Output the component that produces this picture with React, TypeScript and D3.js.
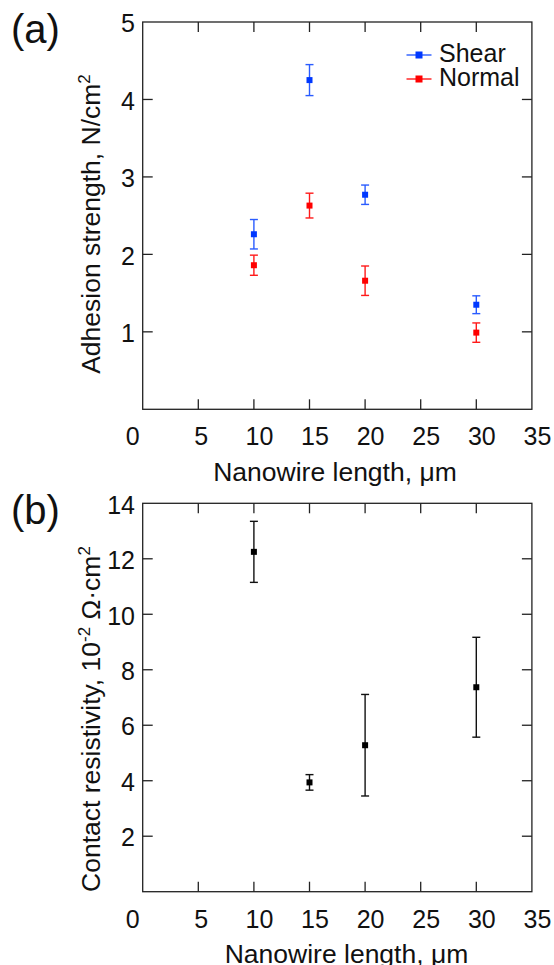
import React from "react";
import * as d3 from "d3";

const lengths = [10, 15, 20, 30];
const shearMean = [2.26, 4.25, 2.77, 1.35];
const shearErr = [0.19, 0.2, 0.125, 0.115];
const normalMean = [1.86, 2.63, 1.66, 0.99];
const normalErr = [0.13, 0.16, 0.19, 0.125];
const resistMean = [12.25, 3.94, 5.28, 7.37];
const resistErr = [1.1, 0.28, 1.83, 1.8];

const xTicks = [0, 5, 10, 15, 20, 25, 30, 35];
const yTicksA = [1, 2, 3, 4, 5];
const yTicksB = [2, 4, 6, 8, 10, 12, 14];

const FONT = "'Liberation Sans', Arial, sans-serif";
const FRAME = "#222";

type Series = { mean: number[]; err: number[]; marker: string; bar: string };

function Panel(props: {
  top: number;
  bottom: number;
  yMax: number;
  yTicks: number[];
  series: Series[];
  label: string;
  yTitle: React.ReactNode;
  yTitleCenter: number;
  xTitleBaseline: number;
  xTitleCenter: number;
  children?: React.ReactNode;
}) {
  const { top, bottom, yMax, yTicks, series } = props;
  const left = 142.7;
  const right = 531.9;
  const x = d3.scaleLinear().domain([0, 35]).range([left, right]);
  const y = d3.scaleLinear().domain([0, yMax]).range([bottom, top]);
  const tl = 10;
  const cap = 4;
  const ms = 6;
  const labelDx = (t: number) => {
    const s = String(t);
    if (t === 0) return -10;
    if (s.length === 1) return 3;
    return 5.5;
  };
  return (
    <g>
      <text x={11} y={top + 21} fontSize={40} fontFamily={FONT} fill="#111">
        {props.label}
      </text>
      <rect x={left} y={top} width={right - left} height={bottom - top} fill="none" stroke={FRAME} strokeWidth={1.3} />
      {xTicks.map((t) => (
        <g key={"x" + t}>
          {t > 0 && t < 35 && (
            <>
              <line x1={x(t)} x2={x(t)} y1={bottom} y2={bottom - tl} stroke={FRAME} strokeWidth={1.3} />
              <line x1={x(t)} x2={x(t)} y1={top} y2={top + tl} stroke={FRAME} strokeWidth={1.3} />
            </>
          )}
          <text
            x={x(t) + labelDx(t)}
            y={bottom + 36}
            textAnchor="middle"
            fontSize={25}
            fontFamily={FONT}
            fill="#111"
          >
            {t}
          </text>
        </g>
      ))}
      {yTicks.map((t) => (
        <g key={"y" + t}>
          {t < yMax && (
            <>
              <line x1={left} x2={left + tl} y1={y(t)} y2={y(t)} stroke={FRAME} strokeWidth={1.3} />
              <line x1={right} x2={right - tl} y1={y(t)} y2={y(t)} stroke={FRAME} strokeWidth={1.3} />
            </>
          )}
          <text
            x={135}
            y={y(t) + 1.5}
            dy="0.35em"
            textAnchor="end"
            fontSize={25}
            fontFamily={FONT}
            fill="#111"
          >
            {t}
          </text>
        </g>
      ))}
      <text
        x={props.xTitleCenter}
        y={props.xTitleBaseline}
        textAnchor="middle"
        fontSize={26.5}
        fontFamily={FONT}
        fill="#111"
      >
        Nanowire length, μm
      </text>
      <text
        transform={`translate(100,${props.yTitleCenter}) rotate(-90)`}
        textAnchor="middle"
        fontSize={26.5}
        fontFamily={FONT}
        fill="#111"
      >
        {props.yTitle}
      </text>
      {series.map((s, si) => (
        <g key={"s" + si}>
          {lengths.map((L, i) => {
            const cx = x(L);
            const yt = y(s.mean[i] + s.err[i]);
            const yb = y(s.mean[i] - s.err[i]);
            const cy = y(s.mean[i]);
            return (
              <g key={i}>
                <line x1={cx} x2={cx} y1={yt} y2={yb} stroke={s.bar} strokeWidth={1.4} />
                <line x1={cx - cap} x2={cx + cap} y1={yt} y2={yt} stroke={s.bar} strokeWidth={1.4} />
                <line x1={cx - cap} x2={cx + cap} y1={yb} y2={yb} stroke={s.bar} strokeWidth={1.4} />
                <rect x={cx - ms / 2} y={cy - ms / 2} width={ms} height={ms} fill={s.marker} />
              </g>
            );
          })}
        </g>
      ))}
      {props.children}
    </g>
  );
}

export default function App() {
  const blue: Series = { mean: shearMean, err: shearErr, marker: "#0038ff", bar: "#2a5cff" };
  const red: Series = { mean: normalMean, err: normalErr, marker: "#ff0000", bar: "#ff1a1a" };
  const black: Series = { mean: resistMean, err: resistErr, marker: "#000", bar: "#111" };
  const legend = [
    { name: "Shear", s: blue, y: 55 },
    { name: "Normal", s: red, y: 79 },
  ];
  return (
    <svg
      width={554}
      height={965}
      style={{ position: "absolute", left: 0, top: 0, background: "#fff" }}
    >
      <rect x={0} y={0} width={554} height={965} fill="#fff" />
      <Panel
        top={22}
        bottom={409.3}
        yMax={5}
        yTicks={yTicksA}
        series={[blue, red]}
        label="(a)"
        yTitleCenter={224}
        xTitleBaseline={481}
        xTitleCenter={335}
        yTitle={
          <>
            Adhesion strength, N/cm
            <tspan dy={-10} fontSize={17}>2</tspan>
          </>
        }
      >
        {legend.map((l) => (
          <g key={l.name}>
            <line x1={406.5} x2={431.5} y1={l.y} y2={l.y} stroke={l.s.bar} strokeWidth={1.4} />
            <rect x={419 - 3.5} y={l.y - 3.5} width={7} height={7} fill={l.s.marker} />
            <text x={439} y={l.y + 7} fontSize={25} fontFamily={FONT} fill="#111">
              {l.name}
            </text>
          </g>
        ))}
      </Panel>
      <Panel
        top={503.3}
        bottom={891.7}
        yMax={14}
        yTicks={yTicksB}
        series={[black]}
        label="(b)"
        yTitleCenter={719}
        xTitleBaseline={962.5}
        xTitleCenter={346.5}
        yTitle={
          <>
            Contact resistivity, 10
            <tspan dy={-10} fontSize={17}>-2</tspan>
            <tspan dy={10}> Ω·cm</tspan>
            <tspan dy={-10} fontSize={17}>2</tspan>
          </>
        }
      />
    </svg>
  );
}
